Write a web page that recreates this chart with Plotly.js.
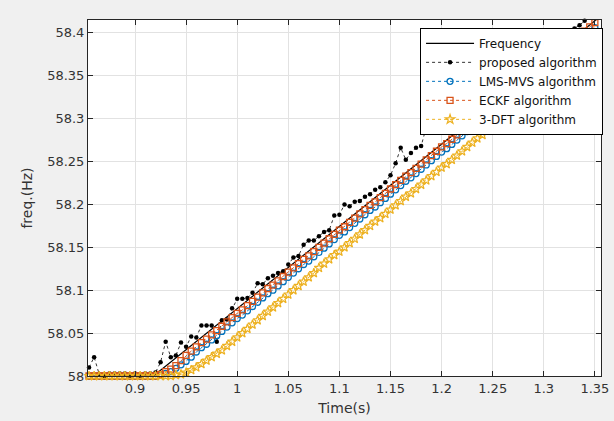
<!DOCTYPE html>
<html>
<head>
<meta charset="utf-8">
<script src="https://cdn.plot.ly/plotly-3.0.1.min.js"></script>
<style>html,body{margin:0;padding:0;background:#f0f0f0;}#chart{width:614px;height:421px;}</style>
</head>
<body>
<div id="chart"></div>
<script>
// time samples (s)
const time = [0.855,0.860,0.865,0.870,0.875,0.880,0.885,0.890,0.895,0.900,
  0.905,0.910,0.915,0.920,0.925,0.930,0.935,0.940,0.945,0.950,
  0.955,0.960,0.965,0.970,0.975,0.980,0.985,0.990,0.995,1.000,
  1.005,1.010,1.015,1.020,1.025,1.030,1.035,1.040,1.045,1.050,
  1.055,1.060,1.065,1.070,1.075,1.080,1.085,1.090,1.095,1.100,
  1.105,1.110,1.115,1.120,1.125,1.130,1.135,1.140,1.145,1.150,
  1.155,1.160,1.165,1.170,1.175,1.180,1.185,1.190,1.195,1.200,
  1.205,1.210,1.215,1.220,1.225,1.230,1.235,1.240,1.245,1.250,
  1.255,1.260,1.265,1.270,1.275,1.280,1.285,1.290,1.295,1.300,
  1.305,1.310,1.315,1.320,1.325,1.330,1.335,1.340,1.345,1.350];

// true frequency (Hz)
const freqTime = [0.855, 0.918, 1.36];
const freqValue = [58.000, 58.000, 58.4236];

// proposed algorithm (Hz)
const proposed = [58.010,58.022,58.002,58.000,58.003,58.003,58.003,58.003,58.000,58.003,
  58.000,58.003,58.003,58.004,58.016,58.040,58.022,58.024,58.039,58.034,
  58.046,58.045,58.059,58.059,58.059,58.040,58.065,58.066,58.079,58.090,
  58.090,58.091,58.097,58.108,58.107,58.114,58.117,58.120,58.122,58.130,
  58.138,58.140,58.153,58.158,58.158,58.163,58.168,58.170,58.187,58.188,
  58.200,58.198,58.203,58.204,58.209,58.212,58.217,58.220,58.226,58.234,
  58.248,58.266,58.252,58.260,58.266,58.268,58.290,58.284,58.284,58.290,
  58.292,58.295,58.299,58.300,58.303,58.309,58.312,58.318,58.322,58.326,
  58.333,58.336,58.342,58.346,58.350,58.357,58.360,58.366,58.371,58.375,
  58.381,58.385,58.390,58.395,58.400,58.405,58.409,58.414,null,null];

// LMS-MVS algorithm (Hz)
const lmsMvs = [58.000,58.000,58.000,58.000,58.000,58.000,58.000,58.000,58.000,58.000,
  58.000,58.000,58.000,58.000,58.001,58.003,58.005,58.009,58.013,58.017,
  58.022,58.028,58.033,58.037,58.042,58.047,58.052,58.057,58.062,58.067,
  58.071,58.076,58.081,58.086,58.091,58.096,58.100,58.105,58.110,58.115,
  58.120,58.125,58.130,58.134,58.139,58.144,58.149,58.154,58.159,58.164,
  58.168,58.173,58.178,58.183,58.188,58.193,58.197,58.202,58.207,58.212,
  58.217,58.222,58.227,58.231,58.236,58.241,58.246,58.251,58.256,58.261,
  58.265,58.270,58.275,58.280,58.285,58.290,58.294,58.299,58.304,58.309,
  58.314,58.319,58.324,58.328,58.333,58.338,58.343,58.348,58.353,58.358,
  58.362,58.367,58.372,58.377,58.382,58.387,58.391,58.396,58.401,58.406];

// ECKF algorithm (Hz)
const eckf = [58.000,58.000,58.000,58.000,58.000,58.000,58.000,58.000,58.000,58.000,
  58.000,58.000,58.000,58.000,58.002,58.005,58.008,58.012,58.018,58.024,
  58.029,58.034,58.039,58.043,58.048,58.053,58.058,58.063,58.068,58.073,
  58.077,58.082,58.087,58.092,58.097,58.102,58.106,58.111,58.116,58.121,
  58.126,58.131,58.136,58.140,58.145,58.150,58.155,58.160,58.165,58.170,
  58.174,58.179,58.184,58.189,58.194,58.199,58.203,58.208,58.213,58.218,
  58.223,58.228,58.233,58.237,58.242,58.247,58.252,58.257,58.262,58.267,
  58.271,58.276,58.281,58.286,58.291,58.296,58.300,58.305,58.310,58.315,
  58.320,58.325,58.330,58.334,58.339,58.344,58.349,58.354,58.359,58.364,
  58.368,58.373,58.378,58.383,58.388,58.393,58.397,58.402,58.407,58.412];

// 3-DFT algorithm (Hz)
const dft3 = [58.000,58.000,58.000,58.000,58.000,58.000,58.000,58.000,58.000,58.000,
  58.000,58.000,58.000,58.000,58.000,58.000,58.000,58.001,58.002,58.004,
  58.007,58.010,58.014,58.018,58.022,58.026,58.030,58.035,58.040,58.045,
  58.050,58.055,58.060,58.065,58.070,58.075,58.080,58.085,58.090,58.095,
  58.100,58.105,58.110,58.115,58.120,58.126,58.131,58.136,58.141,58.145,
  58.150,58.155,58.160,58.165,58.170,58.175,58.180,58.184,58.189,58.194,
  58.199,58.204,58.209,58.213,58.218,58.223,58.228,58.233,58.238,58.243,
  58.247,58.252,58.257,58.262,58.267,58.272,58.277,58.281,58.286,58.291,
  58.296,58.301,58.306,58.310,58.315,58.320,58.325,58.330,58.335,58.340,
  58.344,58.349,58.354,58.359,58.364,58.369,58.374,58.378,58.383,58.388];

// series names
const seriesNames = ["Frequency","proposed algorithm","LMS-MVS algorithm","ECKF algorithm","3-DFT algorithm"];

// tick labels
const xTickVals = [0.9,0.95,1,1.05,1.1,1.15,1.2,1.25,1.3,1.35];
const xTickText = ["0.9","0.95","1","1.05","1.1","1.15","1.2","1.25","1.3","1.35"];
const yTickVals = [58,58.05,58.1,58.15,58.2,58.25,58.3,58.35,58.4];
const yTickText = ["58","58.05","58.1","58.15","58.2","58.25","58.3","58.35","58.4"];

const FONT = "DejaVu Sans, Arial, sans-serif";

const traces = [
  {x: freqTime, y: freqValue, name: seriesNames[0], mode: "lines",
   line: {color: "#000000", width: 1.2}},
  {x: time, y: proposed, name: seriesNames[1], mode: "lines+markers", cliponaxis: false,
   line: {color: "#333333", width: 1, dash: "dot"},
   marker: {symbol: "circle", size: 4.5, color: "#000000"}},
  {x: time, y: lmsMvs, name: seriesNames[2], mode: "lines+markers", cliponaxis: false,
   line: {color: "#0072BD", width: 1, dash: "dot"},
   marker: {symbol: "circle-open", size: 6, color: "#0072BD", line: {width: 1.3}}},
  {x: time, y: eckf, name: seriesNames[3], mode: "lines+markers", cliponaxis: false,
   line: {color: "#D95319", width: 1, dash: "dot"},
   marker: {symbol: "square-open", size: 6, color: "#D95319", line: {width: 1.3}}},
  {x: time, y: dft3, name: seriesNames[4], mode: "lines+markers", cliponaxis: false,
   line: {color: "#EDB120", width: 1, dash: "dot"},
   marker: {symbol: "star-open", size: 7, color: "#EDB120", line: {width: 1.2}}}
];

const axisCommon = {
  showline: true, linecolor: "#262626", linewidth: 1, mirror: "ticks",
  ticks: "inside", ticklen: 5, tickcolor: "#262626", tickwidth: 1,
  showgrid: true, gridcolor: "#e2e2e2", gridwidth: 1, zeroline: false,
  tickfont: {family: FONT, size: 13, color: "#333333"}
};

const layout = {
  width: 614, height: 421,
  margin: {l: 88, r: 11, t: 20, b: 45},
  paper_bgcolor: "#f0f0f0", plot_bgcolor: "#ffffff",
  showlegend: true,
  xaxis: Object.assign({}, axisCommon, {
    range: [0.854, 1.356], tickmode: "array", tickvals: xTickVals, ticktext: xTickText,
    title: {text: "Time(s)", font: {family: FONT, size: 14, color: "#333333"}, standoff: 8}
  }),
  yaxis: Object.assign({}, axisCommon, {
    range: [58, 58.415], tickmode: "array", tickvals: yTickVals, ticktext: yTickText,
    title: {text: "freq.(Hz)", font: {family: FONT, size: 14, color: "#333333"}, standoff: 11}
  }),
  legend: {
    x: 1.004, xanchor: "right", y: 0.978, yanchor: "top",
    bgcolor: "#ffffff", bordercolor: "#000000", borderwidth: 1,
    font: {family: FONT, size: 12, color: "#111111"},
    itemwidth: 48, tracegroupgap: 0
  }
};

Plotly.newPlot("chart", traces, layout, {displayModeBar: false, staticPlot: true});
</script>
</body>
</html>
